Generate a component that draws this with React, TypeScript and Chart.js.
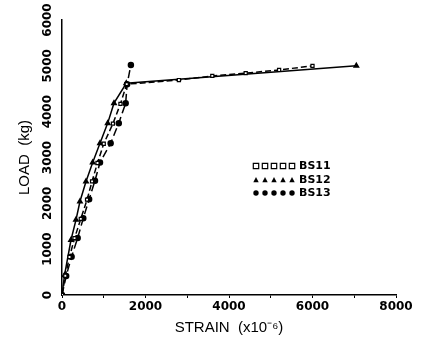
import React, { useEffect, useRef } from "react";
import { Chart, registerables } from "chart.js";

Chart.register(...registerables);

const seriesNames = ["BS11", "BS12", "BS13"];

const strainBS11 = [0, 80, 180, 300, 450, 600, 720, 850, 1000, 1220, 1400, 1550, 2800, 3600, 4400, 5200, 6000];
const loadBS11 = [0, 420, 830, 1240, 1660, 2080, 2480, 2880, 3300, 3740, 4170, 4600, 4690, 4780, 4840, 4910, 5000];

const strainBS12 = [0, 60, 215, 335, 430, 575, 735, 910, 1095, 1245, 1540, 7050];
const loadBS12 = [0, 430, 1200, 1640, 2040, 2475, 2890, 3310, 3750, 4185, 4620, 5000];

const strainBS13 = [0, 100, 230, 375, 510, 650, 790, 910, 1165, 1360, 1525, 1560, 1650];
const loadBS13 = [0, 415, 836, 1245, 1675, 2090, 2495, 2890, 3310, 3750, 4185, 4600, 5020];

const xTickMax = 8000;
const yTickMax = 6000;
const tickStep = 1000;
const xLabelStep = 2000;

const toPoints = (xs: number[], ys: number[]) => xs.map((x, i) => ({ x, y: ys[i] }));

function drawMarker(ctx: CanvasRenderingContext2D, style: string, x: number, y: number, r: number) {
  ctx.beginPath();
  if (style === "rect") {
    ctx.rect(x - r, y - r, 2 * r, 2 * r);
    ctx.fillStyle = "#fff";
    ctx.fill();
    ctx.lineWidth = 1.2;
    ctx.strokeStyle = "#000";
    ctx.stroke();
  } else if (style === "triangle") {
    ctx.moveTo(x, y - r * 1.1);
    ctx.lineTo(x + r, y + r * 0.8);
    ctx.lineTo(x - r, y + r * 0.8);
    ctx.closePath();
    ctx.fillStyle = "#000";
    ctx.fill();
  } else {
    ctx.arc(x, y, r, 0, Math.PI * 2);
    ctx.fillStyle = "#000";
    ctx.fill();
  }
}

const legendPlugin = {
  id: "customLegend",
  afterDraw(chart: any) {
    const ctx = chart.ctx as CanvasRenderingContext2D;
    const styles = ["rect", "triangle", "circle"];
    const x0 = 256;
    const rows = [166, 180, 193];
    ctx.save();
    seriesNames.forEach((name, i) => {
      for (let k = 0; k < 5; k++) drawMarker(ctx, styles[i], x0 + k * 9, rows[i], 2.7);
      ctx.fillStyle = "#000";
      ctx.font = "bold 11px 'DejaVu Sans'";
      ctx.textBaseline = "middle";
      ctx.textAlign = "left";
      ctx.fillText(name, 299, rows[i]);
    });
    ctx.restore();
  },
};

export default function App() {
  const ref = useRef<HTMLCanvasElement>(null);
  useEffect(() => {
    const tickFont = { family: "'DejaVu Sans'", size: 12, weight: "bold" as const };
    const chart = new Chart(ref.current!, {
      type: "line",
      data: {
        datasets: [
          {
            label: seriesNames[0],
            data: toPoints(strainBS11, loadBS11),
            borderColor: "#000",
            borderWidth: 1.5,
            borderDash: [6, 3],
            pointStyle: "rect",
            pointRadius: 2.2,
            pointBackgroundColor: "#fff",
            pointBorderColor: "#000",
            pointBorderWidth: 1.2,
          },
          {
            label: seriesNames[1],
            data: toPoints(strainBS12, loadBS12),
            borderColor: "#000",
            borderWidth: 1.5,
            pointStyle: "triangle",
            pointRadius: 2.5,
            pointBackgroundColor: "#000",
            pointBorderColor: "#000",
          },
          {
            label: seriesNames[2],
            data: toPoints(strainBS13, loadBS13),
            borderColor: "#000",
            borderWidth: 1.5,
            borderDash: [8, 4],
            pointStyle: "circle",
            pointRadius: 2.5,
            pointBackgroundColor: "#000",
            pointBorderColor: "#000",
          },
        ],
      },
      options: {
        responsive: false,
        animation: false,
        events: [],
        layout: { padding: { top: 20, right: 25, left: 0, bottom: 0 } },
        plugins: { legend: { display: false }, tooltip: { enabled: false } },
        elements: { line: { tension: 0 } },
        scales: {
          x: {
            type: "linear",
            min: 0,
            max: xTickMax,
            afterFit: (s: any) => {
              s.height = 42;
            },
            border: { display: true, color: "#000", width: 1.5 },
            grid: { display: true, drawOnChartArea: false, drawTicks: true, tickLength: 3, color: "#000", lineWidth: 1 },
            ticks: {
              stepSize: tickStep,
              autoSkip: false,
              maxRotation: 0,
              color: "#000",
              font: tickFont,
              padding: 2,
              callback: (v: any) => (Number(v) % xLabelStep === 0 ? String(v) : ""),
            },
            title: {
              display: true,
              text: "STRAIN  (x10\u207B\u2076)",
              color: "#000",
              font: { family: "'Liberation Sans'", size: 15 },
              padding: { top: 0, bottom: 0 },
            },
          },
          y: {
            type: "linear",
            min: 0,
            max: yTickMax,
            afterFit: (s: any) => {
              s.width = 62;
            },
            border: { display: true, color: "#000", width: 1.5 },
            grid: { display: false },
            ticks: {
              stepSize: tickStep,
              autoSkip: false,
              minRotation: 90,
              maxRotation: 90,
              crossAlign: "center",
              color: "#000",
              font: tickFont,
              padding: -11,
              callback: (v: any) => String(v),
            },
            title: {
              display: true,
              text: "LOAD  (kg)",
              color: "#000",
              font: { family: "'Liberation Sans'", size: 15 },
              padding: { top: 16, bottom: 0 },
            },
          },
        },
      },
      plugins: [legendPlugin],
    });
    return () => chart.destroy();
  }, []);
  return (
    <div style={{ position: "fixed", left: 0, top: 0, width: 421, height: 337, background: "#fff" }}>
      <canvas ref={ref} width={421} height={337} />
    </div>
  );
}
